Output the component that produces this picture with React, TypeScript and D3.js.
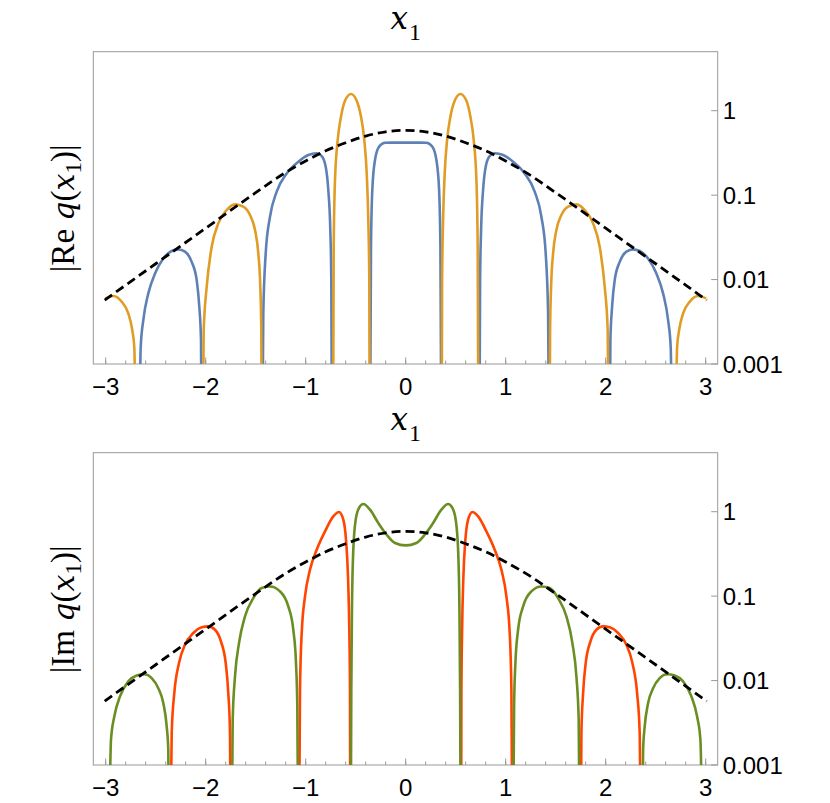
import React from "react";
import * as d3 from "d3";

type Pt = [number, number];

// ---------- data ----------
const xTicks = [-3, -2, -1, 0, 1, 2, 3];
const xMinorTicks = [-3, -2.8, -2.6, -2.4, -2.2, -2, -1.8, -1.6, -1.4, -1.2, -1, -0.8, -0.6, -0.4, -0.2, 0, 0.2, 0.4, 0.6, 0.8, 1, 1.2, 1.4, 1.6, 1.8, 2, 2.2, 2.4, 2.6, 2.8, 3];
const yTicks = [1, 0.1, 0.01, 0.001];
const yTickLabels = ["1", "0.1", "0.01", "0.001"];

// |Re q| — orange lobes
const reOrange: Pt[][] = [
  [[-3.005, 0.00598], [-2.924, 0.00638], [-2.84, 0.00546], [-2.774, 0.00398], [-2.734, 0.00251], [-2.714, 0.00158], [-2.7, 0]],
  [[-2.03, 0], [-2.02, 0.00251], [-1.99, 0.00822], [-1.94, 0.0245], [-1.874, 0.0463], [-1.79, 0.0667], [-1.707, 0.0778], [-1.624, 0.073], [-1.557, 0.0581], [-1.507, 0.0386], [-1.474, 0.0204], [-1.454, 0.00822], [-1.444, 0.00251], [-1.438, 0]],
  [[-0.727, 0], [-0.72, 0.0245], [-0.707, 0.151], [-0.68, 0.45], [-0.647, 0.849], [-0.607, 1.312], [-0.547, 1.578], [-0.49, 1.312], [-0.447, 0.849], [-0.414, 0.45], [-0.39, 0.181], [-0.374, 0.0507], [-0.364, 0.00986], [-0.36, 0]],
  [[0.36, 0], [0.364, 0.00986], [0.374, 0.0507], [0.39, 0.181], [0.414, 0.45], [0.447, 0.849], [0.49, 1.312], [0.547, 1.578], [0.607, 1.312], [0.647, 0.849], [0.68, 0.45], [0.707, 0.151], [0.72, 0.0245], [0.727, 0]],
  [[1.438, 0], [1.444, 0.00251], [1.454, 0.00822], [1.474, 0.0204], [1.507, 0.0386], [1.557, 0.0581], [1.624, 0.073], [1.707, 0.0778], [1.79, 0.0667], [1.874, 0.0463], [1.94, 0.0245], [1.99, 0.00822], [2.02, 0.00251], [2.03, 0]],
  [[2.7, 0], [2.714, 0.00158], [2.734, 0.00251], [2.774, 0.00398], [2.84, 0.00546], [2.924, 0.00638], [3.005, 0.00598]],
];

// |Re q| — blue lobes
const reBlue: Pt[][] = [
  [[-2.664, 0], [-2.65, 0.00158], [-2.624, 0.00331], [-2.574, 0.00686], [-2.507, 0.0118], [-2.424, 0.0178], [-2.34, 0.0218], [-2.274, 0.0228], [-2.207, 0.0214], [-2.14, 0.0162], [-2.09, 0.00986], [-2.064, 0.00479], [-2.047, 0.00192], [-2.04, 0]],
  [[-1.434, 0], [-1.424, 0.00398], [-1.4, 0.0204], [-1.357, 0.0555], [-1.29, 0.11], [-1.19, 0.181], [-1.074, 0.249], [-0.974, 0.299], [-0.89, 0.313], [-0.84, 0.29], [-0.8, 0.217], [-0.774, 0.115], [-0.754, 0.0386], [-0.744, 0.00986], [-0.737, 0]],
  [[-0.357, 0], [-0.347, 0.0245], [-0.334, 0.115], [-0.307, 0.261], [-0.267, 0.374], [-0.207, 0.418], [-0.1, 0.419], [0, 0.419], [0.1, 0.419], [0.207, 0.418], [0.267, 0.374], [0.307, 0.261], [0.334, 0.115], [0.347, 0.0245], [0.357, 0]],
  [[0.737, 0], [0.744, 0.00986], [0.754, 0.0386], [0.774, 0.115], [0.8, 0.217], [0.84, 0.29], [0.89, 0.313], [0.974, 0.299], [1.074, 0.249], [1.19, 0.181], [1.29, 0.11], [1.357, 0.0555], [1.4, 0.0204], [1.424, 0.00398], [1.434, 0]],
  [[2.04, 0], [2.047, 0.00192], [2.064, 0.00479], [2.09, 0.00986], [2.14, 0.0162], [2.207, 0.0214], [2.274, 0.0228], [2.34, 0.0218], [2.424, 0.0178], [2.507, 0.0118], [2.574, 0.00686], [2.624, 0.00331], [2.65, 0.00158], [2.664, 0]],
];

// |Im q| — green lobes
const imGreen: Pt[][] = [
  [[-2.967, 0], [-2.947, 0.002], [-2.914, 0.00376], [-2.857, 0.00649], [-2.774, 0.00977], [-2.69, 0.0115], [-2.614, 0.0119], [-2.54, 0.0107], [-2.474, 0.00813], [-2.424, 0.00541], [-2.39, 0.00286], [-2.374, 0.00151], [-2.367, 0]],
  [[-1.74, 0], [-1.73, 0.00344], [-1.707, 0.0112], [-1.667, 0.0278], [-1.607, 0.0575], [-1.524, 0.0948], [-1.44, 0.125], [-1.357, 0.13], [-1.257, 0.114], [-1.174, 0.0755], [-1.124, 0.04], [-1.097, 0.0161], [-1.084, 0.00493], [-1.074, 0]],
  [[-0.55, 0], [-0.544, 0.00778], [-0.537, 0.0755], [-0.524, 0.355], [-0.5, 0.804], [-0.467, 1.107], [-0.424, 1.233], [-0.357, 1.057], [-0.274, 0.735], [-0.19, 0.533], [-0.107, 0.426], [0, 0.399], [0.107, 0.426], [0.19, 0.533], [0.274, 0.735], [0.357, 1.057], [0.424, 1.233], [0.467, 1.107], [0.5, 0.804], [0.524, 0.355], [0.537, 0.0755], [0.544, 0.00778], [0.55, 0]],
  [[1.074, 0], [1.084, 0.00493], [1.097, 0.0161], [1.124, 0.04], [1.174, 0.0755], [1.257, 0.114], [1.357, 0.13], [1.44, 0.125], [1.524, 0.0948], [1.607, 0.0575], [1.667, 0.0278], [1.707, 0.0112], [1.73, 0.00344], [1.74, 0]],
  [[2.367, 0], [2.374, 0.00151], [2.39, 0.00286], [2.424, 0.00541], [2.474, 0.00813], [2.54, 0.0107], [2.614, 0.0119], [2.69, 0.0115], [2.774, 0.00977], [2.857, 0.00649], [2.914, 0.00376], [2.947, 0.002], [2.967, 0]],
];

// |Im q| — red lobes
const imRed: Pt[][] = [
  [[-2.354, 0], [-2.34, 0.0024], [-2.314, 0.00711], [-2.267, 0.0161], [-2.207, 0.0266], [-2.124, 0.0366], [-2.04, 0.0427], [-1.974, 0.0438], [-1.907, 0.04], [-1.847, 0.029], [-1.8, 0.0161], [-1.774, 0.00711], [-1.757, 0.0024], [-1.75, 0]],
  [[-1.067, 0], [-1.057, 0.00778], [-1.04, 0.0366], [-1.007, 0.0993], [-0.957, 0.206], [-0.89, 0.355], [-0.807, 0.585], [-0.724, 0.879], [-0.667, 0.991], [-0.624, 0.804], [-0.597, 0.466], [-0.577, 0.171], [-0.564, 0.04], [-0.557, 0.00778], [-0.554, 0]],
  [[0.554, 0], [0.557, 0.00778], [0.564, 0.04], [0.577, 0.171], [0.597, 0.466], [0.624, 0.804], [0.667, 0.991], [0.724, 0.879], [0.807, 0.585], [0.89, 0.355], [0.957, 0.206], [1.007, 0.0993], [1.04, 0.0366], [1.057, 0.00778], [1.067, 0]],
  [[1.75, 0], [1.757, 0.0024], [1.774, 0.00711], [1.8, 0.0161], [1.847, 0.029], [1.907, 0.04], [1.974, 0.0438], [2.04, 0.0427], [2.124, 0.0366], [2.207, 0.0266], [2.267, 0.0161], [2.314, 0.00711], [2.34, 0.0024], [2.354, 0]],
];

// dashed envelope
const envX = [-3.01, -2.5, -2, -1.5, -1.2, -1, -0.8, -0.6, -0.4, -0.2, 0, 0.2, 0.4, 0.6, 0.8, 1, 1.2, 1.5, 2, 2.5, 3.01];
const envV = [0.00571, 0.0154, 0.0406, 0.107, 0.186, 0.254, 0.335, 0.417, 0.501, 0.562, 0.586, 0.562, 0.501, 0.417, 0.335, 0.254, 0.186, 0.107, 0.0406, 0.0154, 0.00571];

// ---------- layout ----------
const W = 830;
const H = 803;
const left = 93.3;
const right = 717.7;
const FRAME = "#999999";
const SERIF = "Liberation Serif, DejaVu Serif, serif";
const ITALIC = "DejaVu Serif, serif";
const SANS = "Liberation Sans, Arial, sans-serif";

const xScale = d3.scaleLinear().domain([-3.124, 3.12]).range([left, right]);

interface PanelProps {
  top: number;
  bottom: number;
  id: string;
  series: { lobes: Pt[][]; color: string }[];
  label: "Re" | "Im";
}

function Panel({ top, bottom, id, series, label }: PanelProps) {
  const y = d3.scaleLog().domain([0.001, 5]).range([bottom, top]);
  const line = d3
    .line<Pt>()
    .x((d) => xScale(d[0]))
    .y((d) => y(Math.max(d[1], 1e-4)))
    .curve(d3.curveMonotoneX);
  const env: Pt[] = envX.map((x, i) => [x, envV[i]]);
  const midY = (top + bottom) / 2;
  return (
    <g>
      <defs>
        <clipPath id={id}>
          <rect x={left} y={top} width={right - left} height={bottom - top} />
        </clipPath>
      </defs>
      {/* title */}
      <text x={405.7} y={top - 22.5} style={{ fontFamily: SERIF }} fontSize={31} textAnchor="middle">
        <tspan style={{ fontFamily: ITALIC, fontStyle: "italic" }}>x</tspan>
        <tspan fontSize={24} dy={11} dx={1}>1</tspan>
      </text>
      {/* y label */}
      <text
        transform={`translate(73.5, ${midY + 0.5}) rotate(-90)`}
        style={{ fontFamily: SERIF }}
        fontSize={33}
        textAnchor="middle"
      >
        <tspan>|{label} </tspan>
        <tspan style={{ fontFamily: ITALIC, fontStyle: "italic" }} fontSize={30}>q</tspan>
        <tspan>(</tspan>
        <tspan style={{ fontFamily: ITALIC, fontStyle: "italic" }} fontSize={30}>x</tspan>
        <tspan fontSize={23} dy={7}>1</tspan>
        <tspan dy={-7}>)|</tspan>
      </text>
      {/* frame */}
      <rect x={left} y={top} width={right - left} height={bottom - top} fill="none" stroke={FRAME} strokeWidth={1} />
      {/* x ticks */}
      {xMinorTicks.map((t) => (
        <line key={"m" + t} x1={xScale(t)} x2={xScale(t)} y1={bottom} y2={bottom - 3.5} stroke={FRAME} strokeWidth={1} />
      ))}
      {xTicks.map((t) => (
        <line key={"M" + t} x1={xScale(t)} x2={xScale(t)} y1={bottom} y2={bottom - 6.5} stroke={FRAME} strokeWidth={1} />
      ))}
      {xTicks.map((t) => (
        <text key={"l" + t} x={xScale(t)} y={bottom + 31} style={{ fontFamily: SANS }} fontSize={24} textAnchor="middle">
          {t < 0 ? "\u2212" + Math.abs(t) : String(t)}
        </text>
      ))}
      {/* y ticks */}
      {yTicks.map((t, i) => (
        <g key={"y" + t}>
          <line x1={right} x2={right - 6.5} y1={y(t)} y2={y(t)} stroke={FRAME} strokeWidth={1} />
          <text x={right + 5} y={y(t)} dy="0.36em" style={{ fontFamily: SANS }} fontSize={24}>
            {yTickLabels[i]}
          </text>
        </g>
      ))}
      {/* curves */}
      <g clipPath={`url(#${id})`}>
        {series.map((s, si) =>
          s.lobes.map((lobe, li) => (
            <path key={si + "-" + li} d={line(lobe) || ""} fill="none" stroke={s.color} strokeWidth={2.6} strokeLinejoin="round" />
          ))
        )}
        <path d={line(env) || ""} fill="none" stroke="#000" strokeWidth={2.8} strokeDasharray="9,5" />
      </g>
    </g>
  );
}

export default function App() {
  return (
    <svg width={W} height={H} style={{ position: "absolute", left: 0, top: 0, background: "#fff" }}>
      <rect x={0} y={0} width={W} height={H} fill="#fff" />
      <Panel
        top={51.7}
        bottom={364}
        id="clipRe"
        label="Re"
        series={[
          { lobes: reBlue, color: "#5E81B5" },
          { lobes: reOrange, color: "#E19C24" },
        ]}
      />
      <Panel
        top={452.7}
        bottom={765}
        id="clipIm"
        label="Im"
        series={[
          { lobes: imRed, color: "#FF4500" },
          { lobes: imGreen, color: "#6B8E23" },
        ]}
      />
    </svg>
  );
}
